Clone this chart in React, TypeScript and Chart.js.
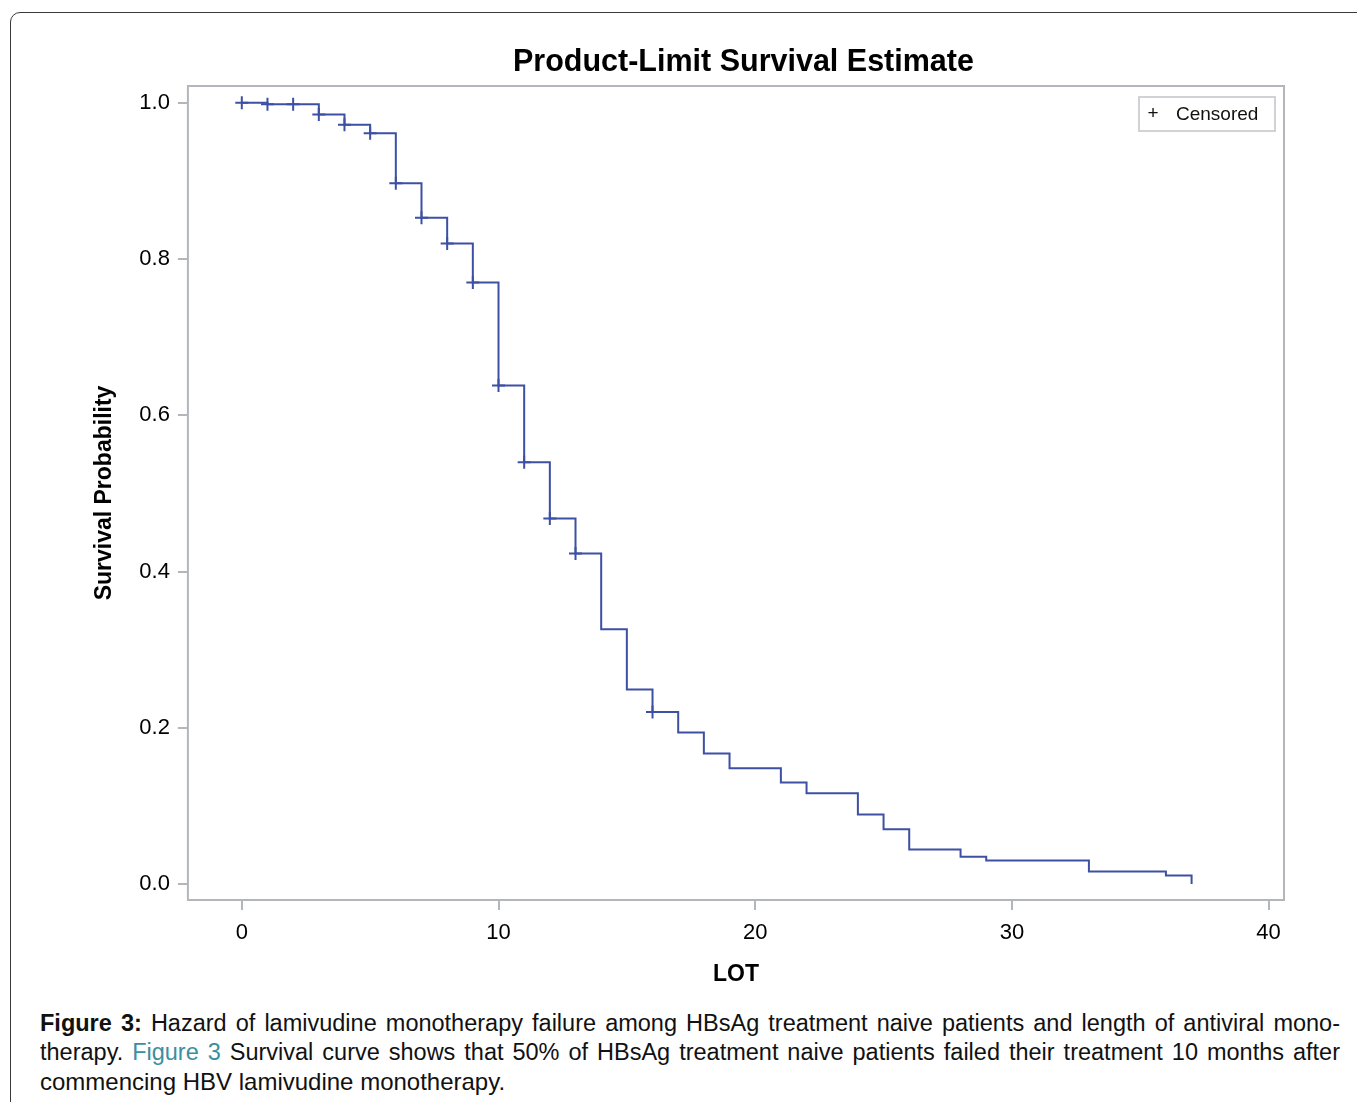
import React, { useEffect, useRef } from "react";
import { Chart, registerables } from "chart.js";

Chart.register(...registerables);

// ---- data ----
const eventTimes = [0, 1, 3, 4, 5, 6, 7, 8, 9, 10, 11, 12, 13, 14, 15, 16, 17, 18, 19, 21, 22, 24, 25, 26, 28, 29, 33, 36, 37];
const survivalValues = [1.0, 0.998, 0.985, 0.972, 0.961, 0.897, 0.853, 0.82, 0.77, 0.638, 0.54, 0.468, 0.423, 0.326, 0.249, 0.22, 0.194, 0.167, 0.148, 0.13, 0.116, 0.089, 0.07, 0.044, 0.035, 0.03, 0.016, 0.011, 0.0];
const censorTimes = [0, 1, 2, 3, 4, 5, 6, 7, 8, 9, 10, 11, 12, 13, 16];
const censorValues = [1.0, 0.998, 0.998, 0.985, 0.972, 0.961, 0.897, 0.853, 0.82, 0.77, 0.638, 0.54, 0.468, 0.423, 0.22];
const xTickValues = [0, 10, 20, 30, 40];
const yTickValues = [0.0, 0.2, 0.4, 0.6, 0.8, 1.0];
const chartTitle = "Product-Limit Survival Estimate";
const xAxisTitle = "LOT";
const yAxisTitle = "Survival Probability";
const legendSymbol = "+";
const legendLabel = "Censored";

const FONT = "'Liberation Sans', Arial, Helvetica, sans-serif";
const LINE_COLOR = "#3D50A3";
const FRAME_COLOR = "#b3b7bc";

export default function App() {
  const canvasRef = useRef<HTMLCanvasElement | null>(null);

  useEffect(() => {
    document.body.style.margin = "0";
    document.body.style.overflow = "hidden";
    const canvas = canvasRef.current;
    if (!canvas) return;

    const decorPlugin = {
      id: "decor",
      afterDraw(chart: any) {
        const { ctx, chartArea } = chart;
        ctx.save();
        // plot frame
        ctx.strokeStyle = FRAME_COLOR;
        ctx.lineWidth = 2;
        ctx.strokeRect(
          chartArea.left,
          chartArea.top,
          chartArea.right - chartArea.left,
          chartArea.bottom - chartArea.top
        );
        // title
        ctx.fillStyle = "#000";
        ctx.font = `bold 30.5px ${FONT}`;
        ctx.textAlign = "center";
        ctx.textBaseline = "middle";
        ctx.fillText(chartTitle, (chartArea.left + chartArea.right) / 2 + 7.5, 62.5);
        // legend box
        const lw = 136;
        const lh = 34;
        const lx = chartArea.right - 145;
        const ly = chartArea.top + 11;
        ctx.strokeStyle = "#d0d2d5";
        ctx.lineWidth = 2;
        ctx.strokeRect(lx, ly, lw, lh);
        ctx.fillStyle = "#111";
        ctx.font = `19px ${FONT}`;
        ctx.textAlign = "center";
        ctx.fillText(legendSymbol, lx + 14, ly + lh / 2);
        ctx.textAlign = "left";
        ctx.fillText(legendLabel, lx + 37, ly + lh / 2 + 0.5);
        ctx.restore();
      },
    };

    const stepData = eventTimes.map((t, i) => ({ x: t, y: survivalValues[i] }));
    const censorData = censorTimes.map((t, i) => ({ x: t, y: censorValues[i] }));

    const chart = new Chart(canvas, {
      type: "line",
      data: {
        datasets: [
          {
            label: "Survival",
            data: stepData,
            stepped: "before",
            borderColor: LINE_COLOR,
            borderWidth: 2,
            pointRadius: 0,
            fill: false,
          },
          {
            label: legendLabel,
            data: censorData,
            showLine: false,
            pointStyle: "cross",
            pointRadius: 6.5,
            pointBorderWidth: 2,
            pointBorderColor: LINE_COLOR,
            borderColor: LINE_COLOR,
          },
        ],
      },
      options: {
        responsive: false,
        animation: false,
        devicePixelRatio: 1,
        layout: { padding: { top: 86, right: 73, left: 0, bottom: 0 } },
        plugins: {
          legend: { display: false },
          title: { display: false },
          tooltip: { enabled: false },
        },
        scales: {
          x: {
            type: "linear",
            min: -2.1,
            max: 40.6,
            afterFit: (scale: any) => {
              scale.height = 100;
            },
            afterBuildTicks: (scale: any) => {
              scale.ticks = xTickValues.map((v) => ({ value: v }));
            },
            ticks: {
              color: "#000",
              padding: 10,
              font: { family: FONT, size: 22 },
              maxRotation: 0,
              callback: (v: any) => String(v),
            },
            grid: {
              display: true,
              drawOnChartArea: false,
              drawTicks: true,
              tickLength: 10,
              color: FRAME_COLOR,
              lineWidth: 2,
            },
            border: { display: false },
            title: {
              display: true,
              text: xAxisTitle,
              color: "#000",
              font: { family: FONT, size: 23, weight: "bold" },
              padding: { top: 0, bottom: 12 },
            },
          },
          y: {
            type: "linear",
            min: -0.0205,
            max: 1.0215,
            afterFit: (scale: any) => {
              scale.width = 187.9;
            },
            afterBuildTicks: (scale: any) => {
              scale.ticks = yTickValues.map((v) => ({ value: v }));
            },
            ticks: {
              color: "#000",
              padding: 8,
              font: { family: FONT, size: 22 },
              callback: (v: any) => Number(v).toFixed(1),
            },
            grid: {
              display: true,
              drawOnChartArea: false,
              drawTicks: true,
              tickLength: 10,
              color: FRAME_COLOR,
              lineWidth: 2,
            },
            border: { display: false },
            title: {
              display: true,
              text: yAxisTitle,
              color: "#000",
              font: { family: FONT, size: 23, weight: "bold" },
              padding: { top: 91, bottom: 0 },
            },
          },
        },
      },
      plugins: [decorPlugin],
    } as any);

    return () => {
      chart.destroy();
    };
  }, []);

  const lineStyle: React.CSSProperties = {
    whiteSpace: "nowrap",
    textAlign: "justify",
    textAlignLast: "justify" as any,
    height: 29,
  };

  return (
    <div
      style={{
        position: "relative",
        width: 1357,
        height: 1102,
        overflow: "hidden",
        background: "#fff",
      }}
    >
      <div
        style={{
          position: "absolute",
          left: 10,
          top: 12,
          width: 1400,
          height: 1200,
          border: "1.5px solid #3a3a3a",
          borderRadius: 10,
          boxSizing: "border-box",
        }}
      />
      <canvas
        ref={canvasRef}
        width={1357}
        height={1000}
        style={{ position: "absolute", left: 0, top: 0, display: "block" }}
      />
      <div
        style={{
          position: "absolute",
          left: 40,
          top: 1009,
          width: 1300,
          fontFamily: FONT,
          fontSize: 23.5,
          lineHeight: "29px",
          color: "#111",
        }}
      >
        <div style={lineStyle}>
          <b>Figure 3:</b> Hazard of lamivudine monotherapy failure among HBsAg treatment naive patients and length of antiviral mono-
        </div>
        <div style={lineStyle}>
          therapy. <span style={{ color: "#3a8fa0" }}>Figure 3</span> Survival curve shows that 50% of HBsAg treatment naive patients failed their treatment 10 months after
        </div>
        <div style={{ whiteSpace: "nowrap", height: 29, fontSize: 24 }}>
          commencing HBV lamivudine monotherapy.
        </div>
      </div>
    </div>
  );
}
